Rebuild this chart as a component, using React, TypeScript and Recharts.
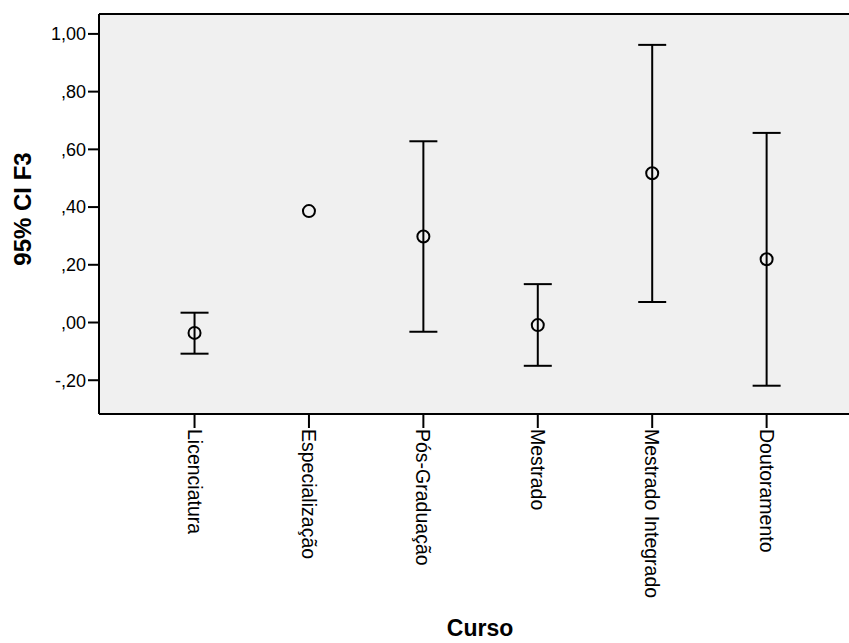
import React from "react";
import {
  ComposedChart,
  Scatter,
  ErrorBar,
  XAxis,
  YAxis,
  CartesianGrid,
  ReferenceLine,
} from "recharts";

const categories = [
  "Licenciatura",
  "Especialização",
  "Pós-Graduação",
  "Mestrado",
  "Mestrado Integrado",
  "Doutoramento",
];
const means = [-0.036, 0.386, 0.298, -0.009, 0.517, 0.219];
const lowerCI = [-0.108, null, -0.032, -0.15, 0.071, -0.219];
const upperCI = [0.034, null, 0.628, 0.133, 0.962, 0.657];
const yTicks = [-0.2, 0, 0.2, 0.4, 0.6, 0.8, 1.0];

const Y_MIN = -0.317;
const Y_MAX = 1.069;
const FONT = "'Liberation Sans', Arial, sans-serif";

const data = categories.map((name, i) => ({
  x: i + 1,
  name,
  mean: means[i],
  err:
    lowerCI[i] == null || upperCI[i] == null
      ? null
      : [means[i] - (lowerCI[i] as number), (upperCI[i] as number) - means[i]],
}));

const fmtY = (v: number) => {
  const s = Math.abs(v).toFixed(2).replace(".", ",").replace(/^0/, "");
  return v < 0 ? "-" + s : s;
};

const CategoryTick = (props: any) => {
  const { x, y, payload } = props;
  return (
    <g transform={`translate(${x},${y})`}>
      <text
        transform="rotate(90)"
        x={0}
        y={0}
        dy="0.36em"
        textAnchor="start"
        fontSize={19.5}
        fontFamily={FONT}
        fill="#000"
      >
        {categories[payload.value - 1]}
      </text>
    </g>
  );
};

const MeanDot = (props: any) => {
  const { cx, cy } = props;
  if (cx == null || cy == null) return null;
  return <circle cx={cx} cy={cy} r={6} fill="none" stroke="#000" strokeWidth={2} />;
};

export default function App() {
  return (
    <div style={{ position: "absolute", left: 0, top: 0, width: 849, height: 643 }}>
      <ComposedChart
        width={849}
        height={643}
        data={data}
        margin={{ top: 14, right: 0, bottom: 0, left: 0 }}
      >
        <CartesianGrid fill="#f0f0f0" stroke="none" horizontal={false} vertical={false} />
        <XAxis
          dataKey="x"
          type="number"
          domain={[0.165, 6.72]}
          ticks={[1, 2, 3, 4, 5, 6]}
          interval={0}
          height={229}
          tickSize={14}
          tickMargin={1}
          axisLine={{ stroke: "#000", strokeWidth: 2 }}
          tickLine={{ stroke: "#000", strokeWidth: 2 }}
          tick={<CategoryTick />}
          allowDataOverflow
        />
        <YAxis
          type="number"
          domain={[Y_MIN, Y_MAX]}
          ticks={yTicks}
          width={99}
          tickSize={11}
          tickMargin={2}
          tickFormatter={fmtY}
          axisLine={{ stroke: "#000", strokeWidth: 2 }}
          tickLine={{ stroke: "#000", strokeWidth: 2 }}
          tick={{ fill: "#000", fontSize: 18, fontFamily: FONT }}
          allowDataOverflow
        />
        <ReferenceLine y={Y_MAX} stroke="#000" strokeWidth={2} ifOverflow="extendDomain" />
        <Scatter dataKey="mean" shape={<MeanDot />} isAnimationActive={false}>
          <ErrorBar dataKey="err" direction="y" width={14} stroke="#000" strokeWidth={2} />
        </Scatter>
        <text
          x={22}
          y={209}
          transform="rotate(-90, 22, 209)"
          textAnchor="middle"
          dominantBaseline="central"
          fontSize={24}
          fontWeight="bold"
          fontFamily={FONT}
          fill="#000"
        >
          95% CI F3
        </text>
        <text
          x={480}
          y={636}
          textAnchor="middle"
          fontSize={23}
          fontWeight="bold"
          fontFamily={FONT}
          fill="#000"
        >
          Curso
        </text>
      </ComposedChart>
    </div>
  );
}
